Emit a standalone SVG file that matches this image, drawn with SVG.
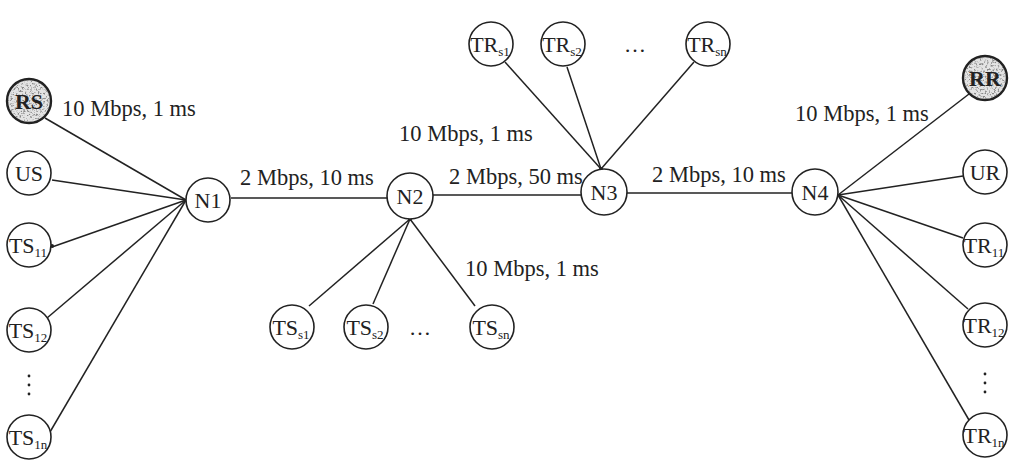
<svg xmlns="http://www.w3.org/2000/svg" width="1014" height="469" viewBox="0 0 1014 469">
  <defs>
    <style>
      .node { fill: #ffffff; stroke: #222222; stroke-width: 1.6; }
      .gray { fill: #e4e4e4; stroke: #222222; stroke-width: 2.4; }
      .lbl { font-family: "Liberation Serif", "Times New Roman", serif; font-size: 22.5px; fill: #222222; }
      .nm { font-family: "Liberation Serif", "Times New Roman", serif; font-size: 22px; fill: #222222; text-anchor: middle; }
      .bold { font-weight: bold; }
      .sub { font-size: 13px; }
      .link { stroke: #222222; stroke-width: 1.5; fill: none; }
    </style>
    <!-- speckled shading for the two end-host circles -->
    <filter id="grain" x="0" y="0" width="100%" height="100%">
      <feTurbulence type="fractalNoise" baseFrequency="0.55" numOctaves="2" seed="7" result="n"/>
      <feColorMatrix in="n" type="matrix" values="0 0 0 0 0.25  0 0 0 0 0.25  0 0 0 0 0.25  5 0 0 0 -2.55" result="spk"/>
      <feComposite in="spk" in2="SourceGraphic" operator="in"/>
    </filter>
  </defs>

  <rect width="1014" height="469" fill="#ffffff"/>

  <!-- connectors -->
  <g id="connectors">
    <!-- backbone -->
    <line class="link" x1="231" y1="198" x2="387" y2="198"/>
    <line class="link" x1="433" y1="195" x2="581" y2="195"/>
    <line class="link" x1="627" y1="193" x2="792" y2="193"/>
    <!-- N1 access links -->
    <line class="link" x1="45" y1="118" x2="186" y2="200"/>
    <line class="link" x1="52" y1="180" x2="186" y2="200"/>
    <line class="link" x1="52" y1="247" x2="186" y2="200"/>
    <line class="link" x1="47" y1="318" x2="186" y2="200"/>
    <line class="link" x1="50" y1="432" x2="186" y2="200"/>
    <circle cx="52" cy="246" r="2" fill="#222222"/>
    <!-- N2 access links -->
    <line class="link" x1="410" y1="219" x2="309" y2="306"/>
    <line class="link" x1="410" y1="219" x2="373" y2="304"/>
    <line class="link" x1="410" y1="219" x2="475" y2="306"/>
    <circle cx="410" cy="219" r="2" fill="#222222"/>
    <!-- N3 access links -->
    <line class="link" x1="601" y1="169" x2="505" y2="62"/>
    <line class="link" x1="601" y1="169" x2="567" y2="67"/>
    <line class="link" x1="601" y1="169" x2="694" y2="62"/>
    <circle cx="601" cy="169" r="2" fill="#222222"/>
    <!-- N4 access links -->
    <line class="link" x1="838" y1="195" x2="969" y2="94"/>
    <line class="link" x1="838" y1="195" x2="963" y2="176"/>
    <line class="link" x1="838" y1="195" x2="963" y2="238"/>
    <line class="link" x1="838" y1="195" x2="968" y2="309"/>
    <line class="link" x1="838" y1="195" x2="969" y2="420"/>
  </g>

  <!-- link labels -->
  <g id="labels">
    <text class="lbl" x="62" y="116">10 Mbps, 1 ms</text>
    <text class="lbl" x="240" y="185">2 Mbps, 10 ms</text>
    <text class="lbl" x="449" y="184">2 Mbps, 50 ms</text>
    <text class="lbl" x="652" y="182">2 Mbps, 10 ms</text>
    <text class="lbl" x="399" y="141">10 Mbps, 1 ms</text>
    <text class="lbl" x="465" y="276">10 Mbps, 1 ms</text>
    <text class="lbl" x="795" y="121">10 Mbps, 1 ms</text>
  </g>

  <!-- sender side -->
  <g id="RS">
    <circle class="gray" cx="29" cy="101" r="22"/>
    <circle cx="29" cy="101" r="21" fill="#000" filter="url(#grain)"/>
    <text class="nm bold" x="29" y="109">RS</text>
  </g>
  <g id="US">
    <circle class="node" cx="29" cy="173" r="22"/>
    <text class="nm" x="29" y="181">US</text>
  </g>
  <g id="TS11">
    <circle class="node" cx="29" cy="245" r="22"/>
    <text class="nm" x="28" y="253">TS<tspan class="sub" dy="4">11</tspan></text>
  </g>
  <g id="TS12">
    <circle class="node" cx="29" cy="330" r="22"/>
    <text class="nm" x="28" y="338">TS<tspan class="sub" dy="4">12</tspan></text>
  </g>
  <g id="vdots-left" fill="#222222">
    <circle cx="29" cy="376" r="1.4"/>
    <circle cx="29" cy="385" r="1.4"/>
    <circle cx="29" cy="394" r="1.4"/>
  </g>
  <g id="TS1n">
    <circle class="node" cx="29" cy="437" r="22"/>
    <text class="nm" x="28" y="445">TS<tspan class="sub" dy="4">1n</tspan></text>
  </g>

  <!-- routers -->
  <g id="N1">
    <circle class="node" cx="208" cy="200" r="22"/>
    <text class="nm" x="208" y="208">N1</text>
  </g>
  <g id="N2">
    <circle class="node" cx="410" cy="196" r="23"/>
    <text class="nm" x="410" y="204">N2</text>
  </g>
  <g id="N3">
    <circle class="node" cx="604" cy="192" r="23"/>
    <text class="nm" x="604" y="200">N3</text>
  </g>
  <g id="N4">
    <circle class="node" cx="815" cy="192" r="23"/>
    <text class="nm" x="815" y="200">N4</text>
  </g>

  <!-- cross-traffic senders at N2 -->
  <g id="TSs1">
    <circle class="node" cx="292" cy="327" r="22"/>
    <text class="nm" x="291" y="335">TS<tspan class="sub" dy="4">s1</tspan></text>
  </g>
  <g id="TSs2">
    <circle class="node" cx="366" cy="327" r="22"/>
    <text class="nm" x="365" y="335">TS<tspan class="sub" dy="4">s2</tspan></text>
  </g>
  <text class="nm" x="420" y="335">…</text>
  <g id="TSsn">
    <circle class="node" cx="492" cy="327" r="22"/>
    <text class="nm" x="491" y="335">TS<tspan class="sub" dy="4">sn</tspan></text>
  </g>

  <!-- cross-traffic receivers at N3 -->
  <g id="TRs1">
    <circle class="node" cx="491" cy="44" r="22"/>
    <text class="nm" x="490" y="52">TR<tspan class="sub" dy="4">s1</tspan></text>
  </g>
  <g id="TRs2">
    <circle class="node" cx="563" cy="44" r="22"/>
    <text class="nm" x="562" y="52">TR<tspan class="sub" dy="4">s2</tspan></text>
  </g>
  <text class="nm" x="635" y="52">…</text>
  <g id="TRsn">
    <circle class="node" cx="708" cy="44" r="22"/>
    <text class="nm" x="707" y="52">TR<tspan class="sub" dy="4">sn</tspan></text>
  </g>

  <!-- receiver side -->
  <g id="RR">
    <circle class="gray" cx="985" cy="78" r="22"/>
    <circle cx="985" cy="78" r="21" fill="#000" filter="url(#grain)"/>
    <text class="nm bold" x="985" y="86">RR</text>
  </g>
  <g id="UR">
    <circle class="node" cx="985" cy="172" r="22"/>
    <text class="nm" x="985" y="180">UR</text>
  </g>
  <g id="TR11">
    <circle class="node" cx="985" cy="245" r="22"/>
    <text class="nm" x="984" y="253">TR<tspan class="sub" dy="4">11</tspan></text>
  </g>
  <g id="TR12">
    <circle class="node" cx="985" cy="325" r="22"/>
    <text class="nm" x="984" y="333">TR<tspan class="sub" dy="4">12</tspan></text>
  </g>
  <g id="vdots-right" fill="#222222">
    <circle cx="985" cy="374" r="1.4"/>
    <circle cx="985" cy="383" r="1.4"/>
    <circle cx="985" cy="392" r="1.4"/>
  </g>
  <g id="TR1n">
    <circle class="node" cx="985" cy="435" r="22"/>
    <text class="nm" x="984" y="443">TR<tspan class="sub" dy="4">1n</tspan></text>
  </g>
</svg>
